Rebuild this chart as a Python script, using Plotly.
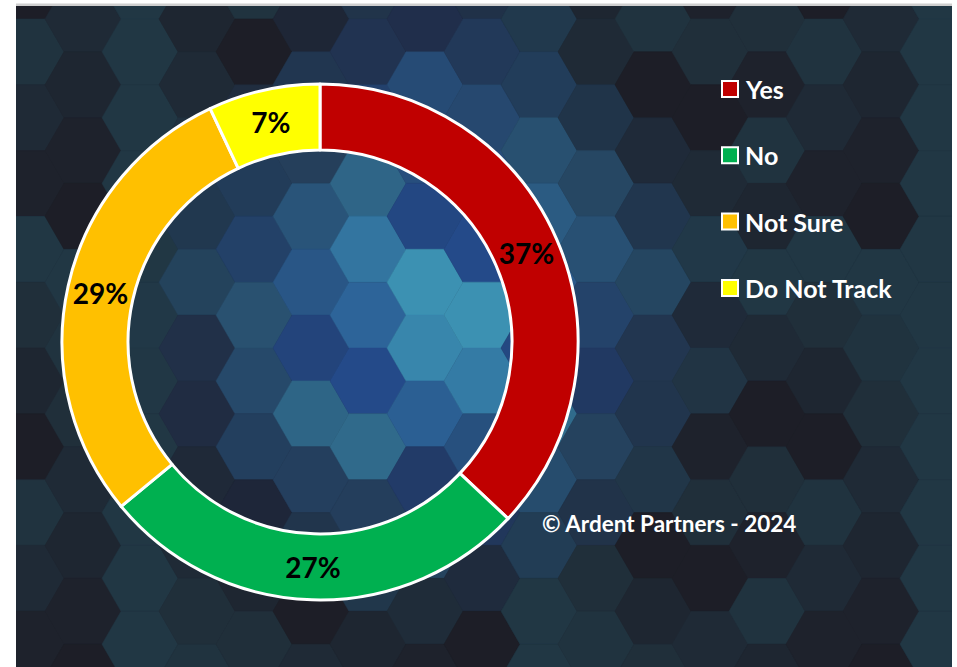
import math
import plotly.graph_objects as go

# ---- data ----
categories = ["Yes", "No", "Not Sure", "Do Not Track"]
shares = [37, 27, 29, 7]
colors = ["#C00000", "#00B050", "#FFC000", "#FFFF00"]
credit = "© Ardent Partners - 2024"

W, H = 957, 667


def px(x):
    return x / W


def py(y):
    return 1 - y / H


fig = go.Figure()

fig.add_trace(go.Pie(
    labels=categories,
    values=shares,
    sort=False,
    direction="clockwise",
    rotation=0,
    hole=0.744,
    marker=dict(colors=colors, line=dict(color="white", width=3)),
    texttemplate="<b>%{value}%</b>",
    textposition="inside",
    insidetextorientation="horizontal",
    textfont=dict(family="Lato", size=28, color="black"),
    domain=dict(x=[px(62), px(578)], y=[py(600), py(84)]),
    showlegend=False,
    hoverinfo="label+percent",
))

# ---- background: hexagon pattern (decoration) ----
shapes = []
x0, y0, x1, y1 = 16, 6, 952, 667
shapes.append(dict(type="rect", xref="paper", yref="paper", x0=px(x0), x1=px(x1),
                   y0=py(y1), y1=py(y0), fillcolor="#1e2029", line=dict(width=0), layer="below"))

s = 38.0
hh = math.sqrt(3) * s
dark = (29, 30, 39)
teal = (33, 55, 68)
blue = (36, 74, 138)
bright = (60, 145, 178)


def lerp(a, b, t):
    return tuple(a[i] + (b[i] - a[i]) * t for i in range(3))


for c in range(-1, 19):
    for r in range(-1, 12):
        cx = x0 + 10 + c * 1.5 * s
        cy = y0 - 20 + r * hh + (c % 2) * hh / 2
        v = ((c * 3 + r * 5 + c * r) % 7) / 6.0
        base = lerp(dark, teal, v)
        d1 = math.hypot(cx - 430, cy - 320)
        g1 = max(0.0, 1 - d1 / 300.0)
        d2 = math.hypot(cx - 430, cy - 50)
        g2 = max(0.0, 1 - d2 / 160.0) * 0.45
        k = ((c * 5 + r * 3) % 4) / 3.0
        glow_col = lerp(blue, bright, min(1.0, k * g1 * 1.4))
        col = lerp(base, glow_col, min(1.0, g1 * 1.4 + g2))
        pts = []
        for a in range(6):
            ang = math.radians(60 * a)
            pts.append((px(cx + s * math.cos(ang)), py(cy + s * math.sin(ang))))
        path = "M " + " L ".join(f"{p[0]:.5f},{p[1]:.5f}" for p in pts) + " Z"
        rgb = "rgb(%d,%d,%d)" % tuple(int(round(q)) for q in col)
        shapes.append(dict(type="path", xref="paper", yref="paper", path=path,
                           fillcolor=rgb, line=dict(color=rgb, width=0.5), layer="below"))

# white margins and top line
for (a, b, cc, dd) in [(0, 0, x0, H), (x1, 0, W, H), (0, 0, W, y0)]:
    shapes.append(dict(type="rect", xref="paper", yref="paper", x0=px(a), x1=px(cc),
                       y0=py(dd), y1=py(b), fillcolor="white", line=dict(width=0), layer="below"))
shapes.append(dict(type="rect", xref="paper", yref="paper", x0=px(x0), x1=px(x1),
                   y0=py(6), y1=py(3.5), fillcolor="#cfcfcf", line=dict(width=0), layer="below"))

# ---- legend (drawn manually to match spacing) ----
annotations = []
leg_x, leg_y, leg_step = 730, 89, 66.3
for i, (name, colr) in enumerate(zip(categories, colors)):
    yc = leg_y + i * leg_step
    shapes.append(dict(type="rect", xref="paper", yref="paper",
                       x0=px(leg_x - 8), x1=px(leg_x + 8),
                       y0=py(yc + 8), y1=py(yc - 8),
                       fillcolor=colr, line=dict(color="white", width=2), layer="above"))
    annotations.append(dict(xref="paper", yref="paper", x=px(leg_x + 13), y=py(yc),
                            xanchor="left", yanchor="middle", showarrow=False,
                            text=f"<b>{name}</b>",
                            font=dict(family="Lato", size=25, color="white")))

annotations.append(dict(xref="paper", yref="paper", x=px(540), y=py(523),
                        xanchor="left", yanchor="middle", showarrow=False,
                        text=f"<b>{credit}</b>",
                        font=dict(family="Lato", size=22.5, color="white")))

fig.update_layout(
    width=W, height=H,
    margin=dict(l=0, r=0, t=0, b=0),
    paper_bgcolor="white",
    plot_bgcolor="rgba(0,0,0,0)",
    shapes=shapes,
    annotations=annotations,
    showlegend=False,
)

fig.write_html("out.html", config={"displayModeBar": False},
               post_script="document.body.style.margin='0';")
